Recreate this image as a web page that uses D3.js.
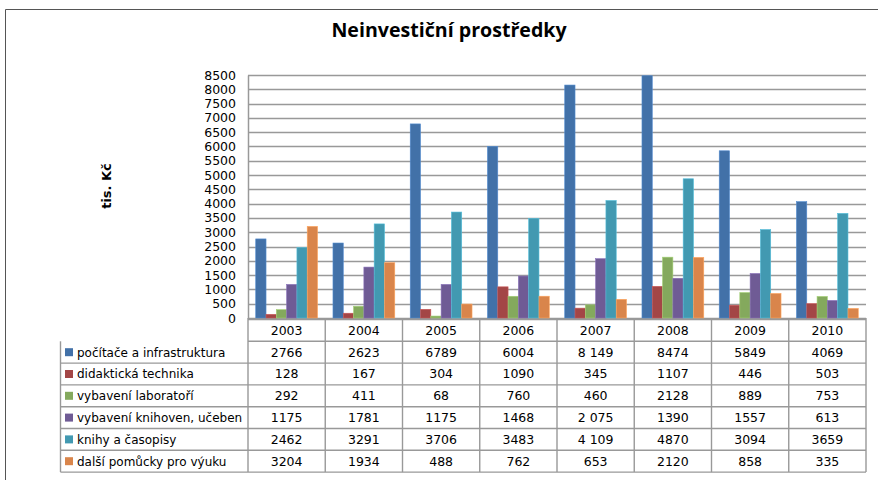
<!DOCTYPE html>
<html>
<head>
<meta charset="utf-8">
<script src="https://cdn.jsdelivr.net/npm/d3@7"></script>
<style>
  body { margin: 0; background: #fff; }
  text { font-family: "DejaVu Sans", Verdana, sans-serif; fill: #000; }
</style>
</head>
<body>
<svg width="878" height="480"></svg>
<script>
// Data
var years = [2003, 2004, 2005, 2006, 2007, 2008, 2009, 2010];
var seriesNames = ["počítače a infrastruktura", "didaktická technika", "vybavení laboratoří",
                   "vybavení knihoven, učeben", "knihy a časopisy", "další pomůcky pro výuku"];
var pocitace   = [2766, 2623, 6789, 6004, 8149, 8474, 5849, 4069];
var didakticka = [128, 167, 304, 1090, 345, 1107, 446, 503];
var laboratore = [292, 411, 68, 760, 460, 2128, 889, 753];
var knihovny   = [1175, 1781, 1175, 1468, 2075, 1390, 1557, 613];
var knihy      = [2462, 3291, 3706, 3483, 4109, 4870, 3094, 3659];
var pomucky    = [3204, 1934, 488, 762, 653, 2120, 858, 335];
var yTicks = d3.range(0, 8501, 500);

var series = [pocitace, didakticka, laboratore, knihovny, knihy, pomucky];
var colors = ["#4271a8", "#a34646", "#84a95d", "#6f5b95", "#4299b1", "#d9854b"];

var svg = d3.select("svg");

// outer frame (only top and left edges visible)
svg.append("path")
    .attr("d", "M5.5,480 V9.5 H878")
    .attr("fill", "none")
    .attr("stroke", "#555")
    .attr("stroke-width", 1);

// title
svg.append("text")
    .attr("x", 449).attr("y", 37)
    .attr("text-anchor", "middle")
    .style("font-family", "'Open Sans', sans-serif")
    .style("font-weight", "bold")
    .style("font-size", "19.6px")
    .text("Neinvestiční prostředky");

// scales
var plotLeft = 248, plotRight = 866, plotTop = 75, plotBottom = 318;
var x0 = d3.scaleBand().domain(years).range([plotLeft, plotRight]);
var x1 = d3.scaleBand().domain(d3.range(series.length))
    .range([0, x0.bandwidth()]).paddingOuter(0.75);
var y = d3.scaleLinear().domain([0, 8500]).range([plotBottom, plotTop]);

// grid
svg.append("g")
    .selectAll("line")
    .data(yTicks)
    .enter()
    .append("line")
    .attr("x1", plotLeft).attr("x2", plotRight)
    .attr("y1", function (d) { return Math.round(y(d)) + 0.5; })
    .attr("y2", function (d) { return Math.round(y(d)) + 0.5; })
    .attr("stroke", "#999")
    .attr("stroke-width", 1.6);

// y axis
var yAxis = svg.append("g")
    .attr("transform", "translate(" + plotLeft + ",0)")
    .call(d3.axisLeft(y).tickValues(yTicks).tickSize(0).tickPadding(12).tickFormat(d3.format("d")));
yAxis.select(".domain").attr("stroke", "#999").attr("stroke-width", 1.5);
yAxis.selectAll("text").style("font-size", "12.5px").style("font-family", "'DejaVu Sans', sans-serif");

svg.append("text")
    .attr("transform", "translate(111,186) rotate(-90)")
    .attr("text-anchor", "middle")
    .style("font-weight", "bold")
    .style("font-size", "13px")
    .text("tis. Kč");

// bars
var groups = svg.append("g")
    .selectAll("g")
    .data(years)
    .enter()
    .append("g")
    .attr("transform", function (d) { return "translate(" + x0(d) + ",0)"; });

groups.selectAll("rect")
    .data(function (d, i) {
        return series.map(function (s, k) { return {k: k, v: s[i]}; });
    })
    .enter()
    .append("rect")
    .attr("x", function (d) { return x1(d.k); })
    .attr("width", x1.bandwidth())
    .attr("y", function (d) { return y(d.v); })
    .attr("height", function (d) { return plotBottom - y(d.v); })
    .attr("fill", function (d) { return colors[d.k]; })
    .attr("stroke", function (d) { return d3.color(colors[d.k]).brighter(0.6); })
    .attr("stroke-width", 0.6);

// data table
var rowH = 21.8, tableTop = 319.5, legendLeft = 60.5;
var tableBottom = tableTop + rowH * (series.length + 1);
var table = svg.append("g");

function fmt(v, year) {
    return year === 2007 ? d3.format(",")(v).replace(",", " ") : String(v);
}

// horizontal lines
table.selectAll("line.h")
    .data(d3.range(series.length + 2))
    .enter()
    .append("line")
    .attr("class", "h")
    .attr("x1", function (d) { return d < 2 ? plotLeft : legendLeft; })
    .attr("x2", plotRight)
    .attr("y1", function (d) { return tableTop + d * rowH; })
    .attr("y2", function (d) { return tableTop + d * rowH; })
    .attr("stroke", "#999").attr("stroke-width", 1.4);

// vertical lines
table.selectAll("line.v")
    .data(years.concat(["end"]))
    .enter()
    .append("line")
    .attr("class", "v")
    .attr("x1", function (d) { return d === "end" ? plotRight : x0(d); })
    .attr("x2", function (d) { return d === "end" ? plotRight : x0(d); })
    .attr("y1", plotBottom)
    .attr("y2", tableBottom)
    .attr("stroke", "#999").attr("stroke-width", 1.4);

table.append("line")
    .attr("x1", legendLeft).attr("x2", legendLeft)
    .attr("y1", tableTop + rowH).attr("y2", tableBottom)
    .attr("stroke", "#999").attr("stroke-width", 1.4);

// header
table.selectAll("text.year")
    .data(years)
    .enter()
    .append("text")
    .attr("x", function (d) { return x0(d) + x0.bandwidth() / 2; })
    .attr("y", tableTop + rowH / 2 + 4.5)
    .attr("text-anchor", "middle")
    .style("font-size", "12.5px")
    .text(function (d) { return d; });

// rows
var rows = table.selectAll("g.row")
    .data(series)
    .enter()
    .append("g")
    .attr("transform", function (d, k) { return "translate(0," + (tableTop + (k + 1) * rowH) + ")"; });

rows.append("rect")
    .attr("x", 65).attr("y", rowH / 2 - 4)
    .attr("width", 8).attr("height", 8)
    .attr("fill", function (d, k) { return colors[k]; });

rows.append("text")
    .attr("x", 77).attr("y", rowH / 2 + 4.5)
    .style("font-size", "12px")
    .text(function (d, k) { return seriesNames[k]; });

rows.selectAll("text.val")
    .data(function (s) { return s; })
    .enter()
    .append("text")
    .attr("class", "val")
    .attr("x", function (d, i) { return x0(years[i]) + x0.bandwidth() / 2; })
    .attr("y", rowH / 2 + 4.5)
    .attr("text-anchor", "middle")
    .style("font-size", "12.5px")
    .text(function (d, i) { return fmt(d, years[i]); });
</script>
</body>
</html>
